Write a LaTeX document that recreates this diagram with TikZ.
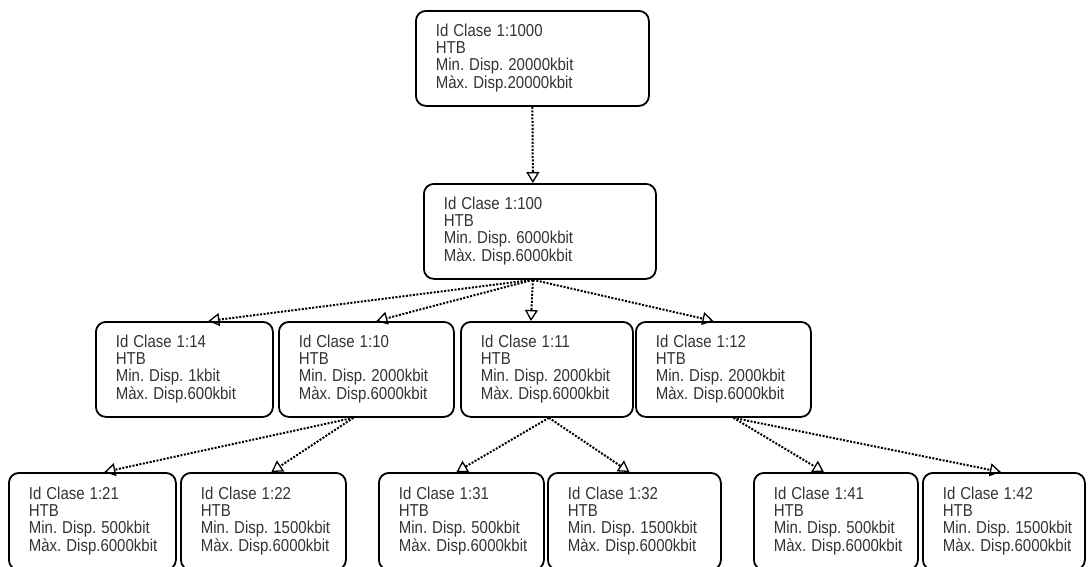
\documentclass[tikz,border=0pt]{standalone}
\usepackage{fontspec}
\setmainfont{Liberation Sans}
\usetikzlibrary{arrows.meta}
\frenchspacing

\newcommand{\clase}[3]{\scalebox{1}[1.15]{\begin{tabular}{@{}l@{}}Id Clase #1\\HTB\\Min. Disp. #2kbit\\Màx. Disp.#3kbit\end{tabular}}}

\begin{document}
\begin{tikzpicture}[
  x=1pt,y=-1pt,
  font=\fontsize{15}{14}\selectfont,
  cls/.style={draw,line width=1.8pt,rounded corners=10pt,anchor=north west,align=left,
              text width=#1,inner xsep=20pt,inner ysep=0pt,minimum height=95pt,text=black!80},
  leaf/.style={cls=#1,minimum height=97pt},
  link/.style={-{Triangle[open,length=11pt,width=13pt,line width=1.3pt]},
               line width=2pt,dash pattern=on 2pt off 1.5pt}
]
\useasboundingbox (0,0) rectangle (1090,566);

\node[cls=193] (p1000) at (415,10)  {\clase{1:1000}{20000}{20000}};
\node[cls=192] (p100)  at (423,183) {\clase{1:100}{6000}{6000}};

\node[cls=137] (c14) at (95,321)  {\clase{1:14}{1}{600}};
\node[cls=135] (c10) at (278,321) {\clase{1:10}{2000}{6000}};
\node[cls=132] (c11) at (460,321) {\clase{1:11}{2000}{6000}};
\node[cls=135] (c12) at (635,321) {\clase{1:12}{2000}{6000}};

\node[leaf=127] (c21) at (8,472)   {\clase{1:21}{500}{6000}};
\node[leaf=125] (c22) at (180,472) {\clase{1:22}{1500}{6000}};
\node[leaf=125] (c31) at (378,472) {\clase{1:31}{500}{6000}};
\node[leaf=133] (c32) at (547,472) {\clase{1:32}{1500}{6000}};
\node[leaf=124] (c41) at (753,472) {\clase{1:41}{500}{6000}};
\node[leaf=122] (c42) at (922,472) {\clase{1:42}{1500}{6000}};

\draw[link] (p1000.south) -- ([xshift=-7pt]p100.north);

\draw[link] ([xshift=-7pt]p100.south) -- ([xshift=24pt]c14.north);
\draw[link] ([xshift=-7pt]p100.south) -- ([xshift=10pt]c10.north);
\draw[link] ([xshift=-7pt]p100.south) -- ([xshift=-16pt]c11.north);
\draw[link] ([xshift=-7pt]p100.south) -- ([xshift=-10pt]c12.north);

\draw[link] ([xshift=-13pt]c10.south) -- ([xshift=12pt]c21.north);
\draw[link] ([xshift=-13pt]c10.south) -- ([xshift=8pt]c22.north);
\draw[link] ([xshift=2pt]c11.south) -- ([xshift=-5pt]c31.north);
\draw[link] ([xshift=2pt]c11.south) -- ([xshift=-5pt]c32.north);
\draw[link] ([xshift=10pt]c12.south) -- ([xshift=-12pt]c41.north);
\draw[link] ([xshift=10pt]c12.south) -- ([xshift=-3pt]c42.north);
\end{tikzpicture}
\end{document}
